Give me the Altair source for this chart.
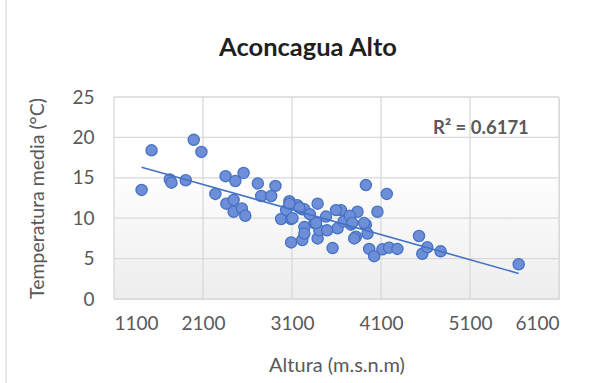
import altair as alt
import pandas as pd

altura = [1410, 1522, 1727, 1746, 1906, 1996, 2082, 2239, 2354, 2463, 2556,
          2362, 2444, 2444, 2537, 2575, 2716, 2914, 2754, 2866, 3071, 2978,
          3090, 3034, 3160, 3216, 3090, 3216, 3239, 3239, 3930, 4165, 4060,
          3836, 3650, 3594, 3388, 3239, 3388, 3407, 3482, 3351, 3556, 3612,
          3762, 3818, 3930, 3948, 3967, 4023, 4116, 4191, 4284, 4527, 4564,
          4620, 4770, 5647, 3183, 3370, 3494, 3680, 3300, 3750, 3777, 3910,
          3799, 3071, 3105]
temperatura = [13.5, 18.4, 14.8, 14.4, 14.7, 19.7, 18.2, 13.0, 15.2, 14.6, 15.6,
               11.8, 12.25, 10.8, 11.2, 10.3, 14.3, 14.0, 12.75, 12.75, 12.1, 9.9,
               9.9, 11.0, 11.6, 11.1, 7.0, 7.3, 8.9, 8.1, 14.1, 13.0, 10.8,
               10.8, 11.0, 11.0, 11.8, 11.1, 7.5, 8.5, 10.2, 9.4, 6.3, 8.75,
               9.2, 7.7, 9.2, 8.1, 6.2, 5.3, 6.15, 6.35, 6.2, 7.8, 5.6,
               6.4, 5.9, 4.3, 11.3, 9.4, 8.5, 9.6, 10.5, 10.3, 9.4, 9.4,
               7.5, 11.8, 10.0]
x_ticks = [1100, 2100, 3100, 4100, 5100, 6100]
y_ticks = [0, 5, 10, 15, 20, 25]
r2_label = "R² = 0.6171"
title_text = "Aconcagua Alto"
x_title = "Altura (m.s.n.m)"
y_title = "Temperatura media (°C)"

df = pd.DataFrame({"Altura": altura, "Temp": temperatura})
xgrid = pd.DataFrame({"Altura": x_ticks})
ygrid = pd.DataFrame({"Temp": y_ticks})

W, H = 445, 202
FONT = "Lato"
GRAY = "#595959"

xs = alt.Scale(domain=[1100, 6100], nice=False, zero=False)
ys = alt.Scale(domain=[0, 25], nice=False)

xaxis = alt.Axis(values=x_ticks, title=x_title, grid=False, ticks=False, domain=False,
                 format="d", labelPadding=15, labelFontSize=19, labelColor=GRAY,
                 labelFont=FONT, titleFont=FONT, titleFontSize=20, titleColor=GRAY,
                 titleFontWeight="normal", titleY=66, titleBaseline="middle")
yaxis = alt.Axis(values=y_ticks, title=y_title, grid=False, ticks=False, domain=False,
                 labelPadding=20, labelFontSize=19, labelColor=GRAY,
                 labelFont=FONT, titleFont=FONT, titleFontSize=19.5, titleColor=GRAY,
                 titleFontWeight="normal", titleX=-77, titleY=H / 2,
                 titleAngle=-90, titleBaseline="middle", titleAlign="center")

bg = alt.Chart(pd.DataFrame({"a": [0]})).mark_rect(
    color=alt.Gradient(gradient="linear",
                       stops=[alt.GradientStop(color="#ffffff", offset=0),
                              alt.GradientStop(color="#ffffff", offset=0.35),
                              alt.GradientStop(color="#ededed", offset=1)],
                       x1=0, x2=0, y1=0, y2=1)
).encode(x=alt.value(0), x2=alt.value(W), y=alt.value(0), y2=alt.value(H))

vgrid = alt.Chart(xgrid).mark_rule(color="#d9d9d9", strokeWidth=1.3).encode(
    x=alt.X("Altura:Q", scale=xs, axis=xaxis))
hgrid = alt.Chart(ygrid).mark_rule(color="#d9d9d9", strokeWidth=1.3).encode(
    y=alt.Y("Temp:Q", scale=ys, axis=yaxis))

frame = alt.Chart(pd.DataFrame({"a": [0]})).mark_rule(color="#d9d9d9", strokeWidth=1.2).encode(
    x=alt.value(-108), y=alt.value(-97), y2=alt.value(286))

pts = alt.Chart(df).mark_point(shape="circle", filled=True, fill="#6f8ed8",
                               stroke="#4472C4", strokeWidth=1.3, size=125,
                               opacity=1, fillOpacity=1).encode(
    x=alt.X("Altura:Q", scale=xs, axis=xaxis),
    y=alt.Y("Temp:Q", scale=ys, axis=yaxis))

trend = alt.Chart(df).transform_regression("Altura", "Temp").mark_line(
    color="#4472C4", strokeWidth=1.6).encode(
    x=alt.X("Altura:Q", scale=xs, axis=xaxis),
    y=alt.Y("Temp:Q", scale=ys, axis=yaxis))

r2 = alt.Chart(pd.DataFrame({"t": [r2_label]})).mark_text(
    font=FONT, fontSize=18.5, fontWeight="bold", color=GRAY, align="left",
    baseline="middle").encode(text="t:N", x=alt.value(319), y=alt.value(31))

title = alt.Chart(pd.DataFrame({"t": [title_text]})).mark_text(
    font=FONT, fontSize=25.5, fontWeight="bold", color="#1f1f1f", align="center",
    baseline="middle").encode(text="t:N", x=alt.value(194), y=alt.value(-49))

chart = alt.layer(bg, vgrid, hgrid, frame, pts, trend, r2, title).properties(
    width=W, height=H,
    autosize=alt.AutoSizeParams(type="none"),
    padding={"left": 114, "top": 97, "right": 42, "bottom": 84},
).configure_view(stroke="#c8c8c8", strokeWidth=1.2).configure(background="white")

chart.save("out.html", embed_options={"renderer": "svg", "actions": False})
